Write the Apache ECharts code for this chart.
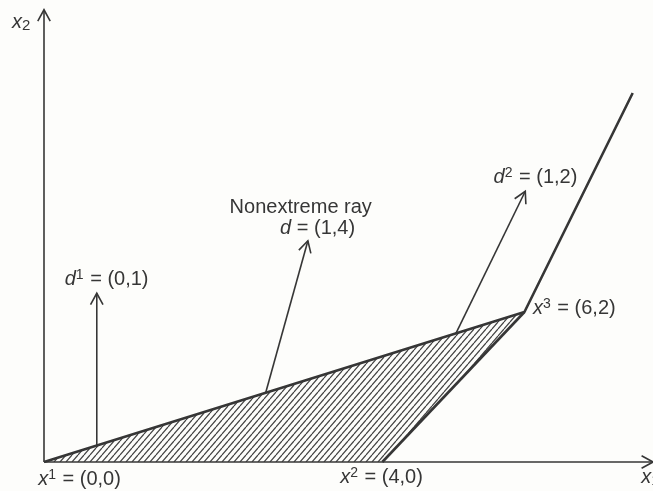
<!DOCTYPE html>
<html>
<head>
<meta charset="utf-8">
<style>
  html, body { margin: 0; padding: 0; background: #fdfdfb; }
  #rays { width: 653px; height: 491px; }
</style>
<script src="https://cdn.jsdelivr.net/npm/echarts@6/dist/echarts.min.js"></script>
</head>
<body>
<div id="rays"></div>
<script>
// positions are in the sketch's own units (the textbook figure is not drawn to scale)
var regionVertices = [[0, 0], [4, 0], [5.68, 2]];
var upperBoundary = [[0, 0], [5.68, 2], [6.96, 4.92]];
var lowerBoundary = [[4, 0], [5.68, 2]];
// [x0, y0, x1, y1]
var axisArrows = [[0, 0, 0, 6.03], [0, 0, 7.2, 0]];
var rayArrows = [[0.624, 0.22, 0.624, 2.25], [2.62, 0.92, 3.12, 2.95], [4.87, 1.715, 5.69, 3.61]];
var labelTexts = ['{i|x}{sub|2}', 'Nonextreme ray', '{i|d} = (1,4)', '{i|d}{sup|1} = (0,1)', '{i|d}{sup|2} = (1,2)',
                  '{i|x}{sup|3} = (6,2)', '{i|x}{sup|1} = (0,0)', '{i|x}{sup|2} = (4,0)', '{i|x}{sub|1}'];
var labelAnchors = [[-0.27, 5.86], [3.035, 3.4], [3.235, 3.12], [0.74, 2.44], [5.81, 3.8],
                    [6.27, 2.05], [0.42, -0.227], [3.99, -0.2], [7.17, -0.2]];

var ink = '#363636';
var font = '"Liberation Sans", Arial, sans-serif';

// diagonal hatching for the shaded region
var hatch = document.createElement('canvas');
hatch.width = 6;
hatch.height = 7;
var hctx = hatch.getContext('2d');
hctx.strokeStyle = '#404040';
hctx.lineWidth = 1.2;
for (var k = -1; k <= 1; k++) {
  hctx.beginPath();
  hctx.moveTo(k * 6, 7);
  hctx.lineTo(k * 6 + 6, 0);
  hctx.stroke();
}

function renderArrow(params, api) {
  var p0 = api.coord([api.value(0), api.value(1)]);
  var p1 = api.coord([api.value(2), api.value(3)]);
  var ang = Math.atan2(p1[1] - p0[1], p1[0] - p0[0]);
  var len = 13, spread = 0.5;
  var a1 = [p1[0] - len * Math.cos(ang - spread), p1[1] - len * Math.sin(ang - spread)];
  var a2 = [p1[0] - len * Math.cos(ang + spread), p1[1] - len * Math.sin(ang + spread)];
  return {
    type: 'group',
    children: [
      { type: 'line', shape: { x1: p0[0], y1: p0[1], x2: p1[0], y2: p1[1] },
        style: { stroke: ink, lineWidth: 1.6 } },
      { type: 'polyline', shape: { points: [a1, p1, a2] },
        style: { stroke: ink, lineWidth: 1.6, fill: null } }
    ]
  };
}

function renderRegion(params, api) {
  if (params.dataIndex !== 0) return;
  var pts = regionVertices.map(function (v) { return api.coord(v); });
  return {
    type: 'polygon',
    shape: { points: pts },
    style: { fill: { image: hatch, repeat: 'repeat' }, stroke: null }
  };
}

function renderLabel(params, api) {
  var p = api.coord([api.value(0), api.value(1)]);
  return {
    type: 'text',
    x: p[0],
    y: p[1],
    style: {
      text: labelTexts[params.dataIndex],
      fill: ink,
      fontSize: 20,
      fontFamily: font,
      lineHeight: 22,
      align: 'center',
      verticalAlign: 'middle',
      rich: {
        i: { fontStyle: 'italic', fontSize: 20, fontFamily: font, fill: ink, lineHeight: 22 },
        sup: { fontSize: 14, fontFamily: font, fill: ink, verticalAlign: 'top', lineHeight: 22, padding: [0, 1, 0, 0] },
        sub: { fontSize: 15, fontFamily: font, fill: ink, verticalAlign: 'bottom', lineHeight: 22, padding: [0, 0, 0, 0] }
      }
    }
  };
}

var myChart = echarts.init(document.getElementById('rays'));
var option = {
  animation: false,
  backgroundColor: '#fdfdfb',
  grid: { left: 44, right: -3, top: 4.5, bottom: 29 },
  xAxis: { type: 'value', min: 0, max: 7.2, show: false },
  yAxis: { type: 'value', min: 0, max: 6.1, show: false },
  series: [
    {
      type: 'custom',
      renderItem: renderRegion,
      data: regionVertices,
      silent: true
    },
    {
      type: 'line',
      data: upperBoundary,
      showSymbol: false,
      lineStyle: { color: ink, width: 2.6 },
      silent: true
    },
    {
      type: 'line',
      data: lowerBoundary,
      showSymbol: false,
      lineStyle: { color: ink, width: 2.6 },
      silent: true
    },
    {
      type: 'custom',
      renderItem: renderArrow,
      data: axisArrows.concat(rayArrows),
      silent: true
    },
    {
      type: 'custom',
      renderItem: renderLabel,
      data: labelAnchors,
      silent: true
    }
  ]
};
myChart.setOption(option);
</script>
</body>
</html>
